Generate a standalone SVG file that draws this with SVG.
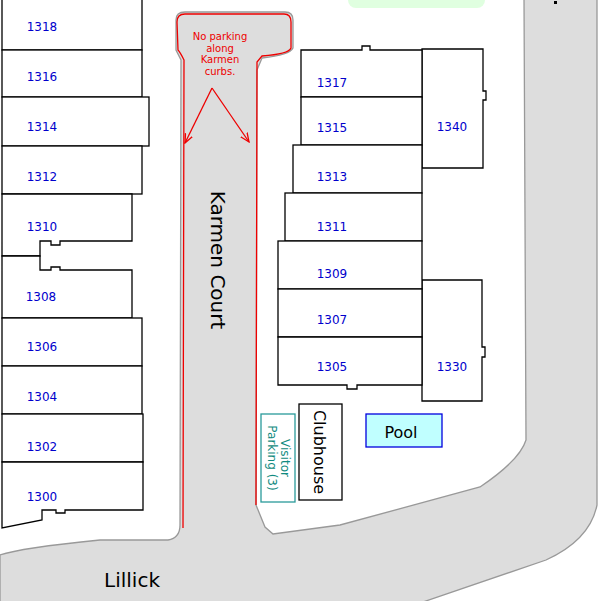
<svg xmlns="http://www.w3.org/2000/svg" width="600" height="601" viewBox="0 0 600 601">
<style>
.b{fill:#fff;stroke:#000;stroke-width:1.3}
.l{font-family:"DejaVu Sans",sans-serif;font-size:12px;fill:#0000cc;text-anchor:middle}
.road{fill:#dddddd;stroke:#999;stroke-width:1.3}
</style>
<defs><marker id="a" markerWidth="8" markerHeight="8" refX="7" refY="4" orient="auto"><path d="M0,1L7,4L0,7" fill="none" stroke="#e00" stroke-width="1"/></marker></defs>
<rect width="600" height="601" fill="#fff"/>
<rect x="348" y="-12" width="137" height="20" rx="8" fill="#e0ffe0"/>
<g id="roads">
<path class="road" d="M524,-2 L597,-2 L597,505 Q590,540 546,560 L423,602 L0,602 L0,555 Q20,548 100,540 L168,540 Q180,538 180,525 L181,60 L176,50 L176,20 Q176,12 185,12 L285,12 Q293,12 293,20 L293,48 Q290,55 262,58 L257,70 L256,505 L265,527 L273,534 L340,525 L480,487 Q520,460 526,440 Z"/>
<rect x="554" y="1" width="3" height="3" fill="#000"/>
</g>
<g id="curbs" fill="none" stroke="#e00" stroke-width="1.3">
<path d="M183,528 L184,60 Q180,52 178,50 L177,22 Q177,14 185,14 L284,14 Q291,14 291,22 L291,48 Q289,54 262,56 L257,62 L256,505"/>
</g>
<g id="connectors" stroke="#e00" stroke-width="1.3" fill="none">
<path d="M212,88 L185,143" marker-end="url(#a)"/>
<path d="M212,88 L249,142" marker-end="url(#a)"/>
</g>
<g font-family="DejaVu Sans,sans-serif" font-size="10" fill="#e00" text-anchor="middle">
<text x="220" y="40">No parking</text><text x="220" y="51.5">along</text><text x="220" y="63">Karmen</text><text x="220" y="74.5">curbs.</text>
</g>
<text transform="translate(211,260) rotate(90)" font-family="DejaVu Sans,sans-serif" font-size="20" text-anchor="middle">Karmen Court</text>
<text x="132" y="587" font-family="DejaVu Sans,sans-serif" font-size="20" text-anchor="middle">Lillick</text>
<g id="n1318"><rect class="b" x="2" y="-2" width="140" height="52"/><text class="l" x="42" y="31">1318</text></g>
<g id="n1316"><rect class="b" x="2" y="50" width="140" height="47"/><text class="l" x="42" y="81">1316</text></g>
<g id="n1314"><rect class="b" x="2" y="97" width="147" height="49"/><text class="l" x="42" y="131">1314</text></g>
<g id="n1312"><rect class="b" x="2" y="146" width="140" height="48"/><text class="l" x="42" y="181">1312</text></g>
<g id="n1310"><path class="b" d="M2,194 L132,194 L132,241 L60,241 L60,245 L51,245 L51,241 L40,241 L40,256 L2,256 Z"/><text class="l" x="42" y="231">1310</text></g>
<g id="n1308"><path class="b" d="M2,256 L40,256 L40,270 L51,270 L51,267 L60,267 L60,270 L132,270 L132,318 L2,318 Z"/><text class="l" x="41" y="301">1308</text></g>
<g id="n1306"><rect class="b" x="2" y="318" width="140" height="48"/><text class="l" x="42" y="351">1306</text></g>
<g id="n1304"><rect class="b" x="2" y="366" width="140" height="48"/><text class="l" x="42" y="401">1304</text></g>
<g id="n1302"><rect class="b" x="2" y="414" width="141" height="48"/><text class="l" x="42" y="451">1302</text></g>
<g id="n1300"><path class="b" d="M2,462 L143,462 L143,510 L65,510 L65,513 L56,513 L56,510 L42,510 L42,520 L2,528 Z"/><text class="l" x="42" y="501">1300</text></g>
<g id="n1340"><path class="b" d="M422,49 L483,49 L483,91 L486,91 L486,100 L483,100 L483,168 L422,168 Z"/><text class="l" x="452" y="131">1340</text></g>
<g id="n1330"><path class="b" d="M422,280 L482,280 L482,347 L485,347 L485,357 L482,357 L482,401 L422,401 Z"/><text class="l" x="452" y="371">1330</text></g>
<g id="n1317"><path class="b" d="M301,50 L362,50 L362,46 L370,46 L370,50 L422,50 L422,97 L301,97 Z"/><text class="l" x="332" y="87">1317</text></g>
<g id="n1315"><rect class="b" x="301" y="97" width="121" height="48"/><text class="l" x="332" y="132">1315</text></g>
<g id="n1313"><rect class="b" x="293" y="145" width="129" height="48"/><text class="l" x="332" y="181">1313</text></g>
<g id="n1311"><rect class="b" x="285" y="193" width="137" height="48"/><text class="l" x="332" y="231">1311</text></g>
<g id="n1309"><rect class="b" x="278" y="241" width="144" height="48"/><text class="l" x="332" y="278">1309</text></g>
<g id="n1307"><rect class="b" x="278" y="289" width="144" height="48"/><text class="l" x="332" y="324">1307</text></g>
<g id="n1305"><path class="b" d="M278,337 L422,337 L422,385 L357,385 L357,389 L347,389 L347,385 L278,385 Z"/><text class="l" x="332" y="371">1305</text></g>
<g id="visitor"><rect x="261" y="414" width="34" height="88" fill="#fff" stroke="#2a9a9a" stroke-width="1.3"/>
<text transform="translate(278,458) rotate(90)" font-family="DejaVu Sans,sans-serif" font-size="12" fill="#108a80" text-anchor="middle"><tspan x="0" y="-3">Visitor</tspan><tspan x="0" y="10">Parking  (3)</tspan></text></g>
<g id="clubhouse"><rect class="b" x="299" y="404" width="43" height="96"/><text transform="translate(314,452) rotate(90)" font-family="DejaVu Sans,sans-serif" font-size="16" text-anchor="middle">Clubhouse</text></g>
<g id="pool"><rect x="366" y="414" width="76" height="33" fill="#c0ffff" stroke="#0000dd" stroke-width="1.3"/><text x="401" y="438" font-family="DejaVu Sans,sans-serif" font-size="16" text-anchor="middle">Pool</text></g>
</svg>
